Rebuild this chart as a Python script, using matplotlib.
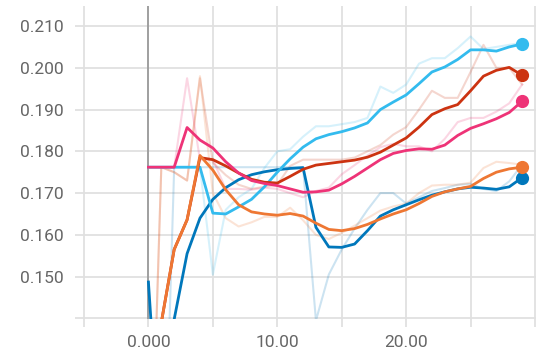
import matplotlib
matplotlib.use("Agg")
import matplotlib.pyplot as plt

steps = list(range(30))

# raw values per run
blue_raw = [0.1487, 0.0740, 0.1762, 0.1762, 0.1762, 0.1762, 0.1762, 0.1762, 0.1762, 0.1762,
            0.1762, 0.1762, 0.1762, 0.1395, 0.1505, 0.1565, 0.1615, 0.1660, 0.1700, 0.1700,
            0.1675, 0.1690, 0.1705, 0.1712, 0.1720, 0.1722, 0.1710, 0.1705, 0.1728, 0.1768]
cyan_raw = [0.1762, 0.1762, 0.1762, 0.1762, 0.1762, 0.1505, 0.1660, 0.1690, 0.1710, 0.1760,
            0.1800, 0.1805, 0.1835, 0.1860, 0.1860, 0.1865, 0.1870, 0.1880, 0.1955, 0.1940,
            0.1960, 0.2010, 0.2023, 0.2023, 0.2047, 0.2075, 0.2045, 0.2050, 0.2055, 0.2060]
red_raw = [0.0780, 0.1762, 0.1750, 0.1730, 0.1975, 0.1773, 0.1743, 0.1720, 0.1710, 0.1715,
           0.1720, 0.1765, 0.1780, 0.1780, 0.1780, 0.1780, 0.1785, 0.1800, 0.1815, 0.1840,
           0.1858, 0.1900, 0.1945, 0.1928, 0.1928, 0.1990, 0.2055, 0.2000, 0.2000, 0.1960]
orange_raw = [0.0780, 0.1762, 0.1750, 0.1730, 0.1980, 0.1700, 0.1640, 0.1620, 0.1630, 0.1643,
              0.1643, 0.1665, 0.1635, 0.1600, 0.1590, 0.1605, 0.1622, 0.1640, 0.1658, 0.1668,
              0.1675, 0.1700, 0.1718, 0.1720, 0.1720, 0.1725, 0.1760, 0.1775, 0.1772, 0.1768]
pink_raw = [0.1762, 0.1762, 0.1762, 0.1975, 0.1780, 0.1780, 0.1710, 0.1710, 0.1708, 0.1713,
            0.1710, 0.1700, 0.1690, 0.1705, 0.1713, 0.1745, 0.1767, 0.1790, 0.1810, 0.1818,
            0.1812, 0.1812, 0.1800, 0.1830, 0.1870, 0.1880, 0.1880, 0.1895, 0.1915, 0.1960]

# smoothed values per run
blue_smooth = [0.1487, 0.1020, 0.1398, 0.1555, 0.1640, 0.1685, 0.1713, 0.1732, 0.1744, 0.1751,
               0.1756, 0.1759, 0.1761, 0.1618, 0.1571, 0.1570, 0.1578, 0.1610, 0.1645, 0.1660,
               0.1672, 0.1684, 0.1695, 0.1703, 0.1710, 0.1714, 0.1712, 0.1709, 0.1715, 0.1737]
cyan_smooth = [0.1762, 0.1762, 0.1762, 0.1762, 0.1762, 0.1652, 0.1650, 0.1667, 0.1685, 0.1715,
               0.1750, 0.1782, 0.1810, 0.1830, 0.1840, 0.1847, 0.1856, 0.1868, 0.1900, 0.1918,
               0.1935, 0.1962, 0.1990, 0.2002, 0.2020, 0.2043, 0.2043, 0.2040, 0.2050, 0.2057]
red_smooth = [0.0780, 0.1390, 0.1565, 0.1636, 0.1785, 0.1780, 0.1765, 0.1748, 0.1733, 0.1726,
              0.1724, 0.1740, 0.1757, 0.1767, 0.1771, 0.1775, 0.1779, 0.1786, 0.1798, 0.1815,
              0.1832, 0.1858, 0.1888, 0.1902, 0.1912, 0.1945, 0.1980, 0.1994, 0.2001, 0.1982]
orange_smooth = [0.0780, 0.1390, 0.1565, 0.1636, 0.1790, 0.1755, 0.1708, 0.1672, 0.1655, 0.1650,
                 0.1647, 0.1651, 0.1645, 0.1628, 0.1613, 0.1610, 0.1615, 0.1625, 0.1638, 0.1650,
                 0.1660, 0.1675, 0.1692, 0.1703, 0.1710, 0.1716, 0.1735, 0.1750, 0.1758, 0.1762]
pink_smooth = [0.1762, 0.1762, 0.1762, 0.1857, 0.1827, 0.1808, 0.1775, 0.1748, 0.1730, 0.1723,
               0.1718, 0.1710, 0.1702, 0.1703, 0.1707, 0.1722, 0.1740, 0.1760, 0.1780, 0.1795,
               0.1802, 0.1806, 0.1805, 0.1815, 0.1838, 0.1855, 0.1866, 0.1878, 0.1893, 0.1920]

runs = [
    (blue_raw, blue_smooth, "#0077bb"),
    (cyan_raw, cyan_smooth, "#33bbee"),
    (red_raw, red_smooth, "#cc3311"),
    (orange_raw, orange_smooth, "#ee7733"),
    (pink_raw, pink_smooth, "#ee3377"),
]

yticks = [0.140, 0.150, 0.160, 0.170, 0.180, 0.190, 0.200, 0.210]
ytick_labels = ["", "0.150", "0.160", "0.170", "0.180", "0.190", "0.200", "0.210"]
xticks = [-5, 0, 5, 10, 15, 20, 25, 30]
xtick_labels = ["", "0.000", "", "10.00", "", "20.00", "", ""]

plt.rcParams["font.family"] = ["Roboto", "DejaVu Sans"]

fig = plt.figure(figsize=(5.43, 3.58), dpi=100)
ax = fig.add_axes([82.7 / 543, 38.8 / 358, 453.6 / 543, 313.2 / 358])

grid_c = "#e0e0e0"
# faint raw curves first, smoothed curves on top
for raw, smooth, c in runs:
    ax.plot(steps, raw, color=c, lw=1.5, alpha=0.2, zorder=2, solid_joinstyle="round")
for raw, smooth, c in runs:
    ax.plot(steps, smooth, color=c, lw=2.0, zorder=3, solid_joinstyle="round")
    ax.plot(steps[-1], smooth[-1], "o", color=c, ms=8.5, zorder=4)

ax.axvline(0, color="#9a9a9a", lw=1.3, zorder=1.5)

ax.set_xlim(-5.1, 30.1)
ax.set_ylim(0.1398, 0.2148)
ax.set_xticks(xticks)
ax.set_xticklabels(xtick_labels)
ax.set_yticks(yticks)
ax.set_yticklabels(ytick_labels)

ax.grid(True, color=grid_c, lw=1.3)
ax.set_axisbelow(True)
for s in ax.spines.values():
    s.set_visible(False)
ax.tick_params(axis="both", length=5.5, width=1.3, color=grid_c,
               labelcolor="#666666", labelsize=12.5)
ax.tick_params(axis="y", pad=8)
ax.tick_params(axis="x", pad=6)

fig.savefig("out.png", dpi=100)
